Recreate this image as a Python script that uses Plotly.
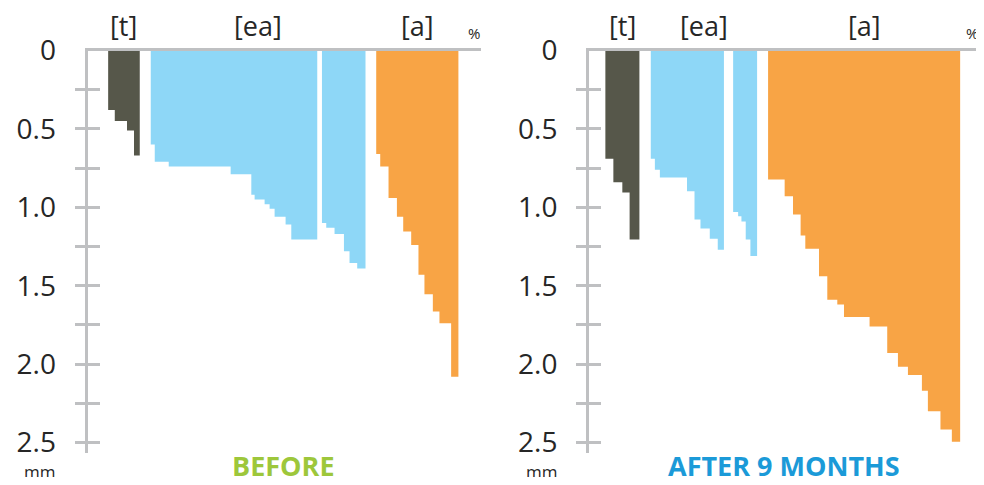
import numpy as np
import plotly.graph_objects as go

# ---------------- data (width = share in %, depth in mm) ----------------
t_before_pct = [1.68, 3.10, 1.78, 1.47]
t_before_mm = [0.38, 0.45, 0.51, 0.67]
ea1_before_pct = [1.02, 3.55, 15.74, 5.25, 0.84, 2.54, 1.27, 1.27, 2.79, 1.45, 6.60]
ea1_before_mm = [0.60, 0.71, 0.74, 0.79, 0.92, 0.95, 0.98, 1.01, 1.06, 1.11, 1.205]
ea2_before_pct = [1.09, 2.11, 2.39, 1.42, 1.95, 2.11]
ea2_before_mm = [1.10, 1.13, 1.17, 1.28, 1.355, 1.39]
a_before_pct = [1.02, 2.11, 2.13, 1.60, 2.03, 1.85, 1.52, 2.13, 1.68, 2.97, 1.85]
a_before_mm = [0.66, 0.74, 0.94, 1.06, 1.155, 1.24, 1.43, 1.555, 1.665, 1.74, 2.08]

t_after_pct = [2.03, 2.28, 1.85, 2.49]
t_after_mm = [0.69, 0.84, 0.905, 1.205]
ea1_after_pct = [1.04, 1.27, 6.90, 1.90, 1.52, 2.36, 2.03, 1.57]
ea1_after_mm = [0.69, 0.76, 0.81, 0.897, 1.078, 1.135, 1.20, 1.27]
ea2_after_pct = [1.27, 0.84, 1.09, 1.19, 1.70]
ea2_after_mm = [1.03, 1.057, 1.09, 1.205, 1.31]
a_after_pct = [4.21, 2.13, 1.93, 1.19, 3.48, 2.11, 2.54, 1.70, 6.50, 4.49, 2.72,
               2.54, 3.55, 1.52, 3.20, 2.89, 2.11]
a_after_mm = [0.823, 0.93, 1.046, 1.18, 1.265, 1.44, 1.59, 1.62, 1.70, 1.76, 1.93,
              2.017, 2.07, 2.17, 2.30, 2.417, 2.495]

y_major = [0, 0.5, 1.0, 1.5, 2.0, 2.5]
y_major_text = ["0", "0.5", "1.0", "1.5", "2.0", "2.5"]
y_minor = [0.25, 0.5, 0.75, 1.0, 1.25, 1.5, 1.75, 2.0, 2.25, 2.5]
group_labels = ["[t]", "[ea]", "[a]"]
panel_titles = ["BEFORE", "AFTER 9 MONTHS"]

# ---------------- styling / layout ----------------
# the page body has an 8px default margin: size the figure to fit inside it
OFF = 8
W, H = 976, 469
C_T = "#56574a"
C_EA = "#8ed7f7"
C_A = "#f8a445"
C_AX = "#bfc0c2"
C_TXT = "#262626"
FONT = "Open Sans"


def px_x(px):
    return (px - OFF) / W


def px_y(py):
    return 1 - (py - OFF) / H


gaps_before = [5.25, 2.79, 1.19, 2.72]
gaps_after = [4.16, 2.89, 2.34, 2.79]

y_dom = [px_y(453.0), px_y(50.5)]
y_range = [2.567, 0]
x_doms = [[px_x(87.5), px_x(481)], [px_x(589), px_x(982.5)]]

fig = go.Figure()

panels = [
    dict(groups=[(t_before_pct, t_before_mm, C_T), (ea1_before_pct, ea1_before_mm, C_EA),
                 (ea2_before_pct, ea2_before_mm, C_EA), (a_before_pct, a_before_mm, C_A)],
         gaps=gaps_before),
    dict(groups=[(t_after_pct, t_after_mm, C_T), (ea1_after_pct, ea1_after_mm, C_EA),
                 (ea2_after_pct, ea2_after_mm, C_EA), (a_after_pct, a_after_mm, C_A)],
         gaps=gaps_after),
]


def ann(text, x, y, size, color=C_TXT, xref="paper"):
    return dict(text=text, x=x, xref=xref, y=y, yref="paper", showarrow=False,
                xanchor="center", yanchor="middle", borderpad=0,
                font=dict(family=FONT, size=size, color=color))


annotations = []
for p, panel in enumerate(panels):
    xa = "x" if p == 0 else "x2"
    ya = "y" if p == 0 else "y2"
    cursor = 0.0
    spans = []
    for (widths, depths, color), gap in zip(panel["groups"], panel["gaps"]):
        start = cursor + gap
        w = np.array(widths)
        edges = start + np.concatenate([[0], np.cumsum(w)])
        xs = [edges[0]] + list(edges[:-1]) + [edges[-1], edges[-1]]
        ys = [0] + list(depths) + [depths[-1], 0]
        fig.add_trace(go.Scatter(x=xs, y=ys, mode="lines", line=dict(width=0, shape="hv"),
                                 fill="toself", fillcolor=color, xaxis=xa, yaxis=ya,
                                 showlegend=False, hoverinfo="skip"))
        spans.append((edges[0], edges[-1]))
        cursor = edges[-1]
    # group labels: [t] over dark, [ea] over both blue groups, [a] over orange
    label_spans = [spans[0], (spans[1][0], spans[2][1]), spans[3]]
    for lab, (s0, s1) in zip(group_labels, label_spans):
        annotations.append(ann(lab, (s0 + s1) / 2, px_y(25), 27, xref=xa))
    annotations.append(ann("%", px_x(474 if p == 0 else 972), px_y(33), 15))
    annotations.append(ann("mm", px_x(39 if p == 0 else 541), px_y(471), 17))
    annotations.append(ann("<b>%s</b>" % panel_titles[p], px_x(283 if p == 0 else 784),
                           px_y(465.5), 27, color="#9dc73b" if p == 0 else "#1b9ad8"))

common_x = dict(side="top", showline=True, linecolor=C_AX, linewidth=3,
                showticklabels=False, ticks="", showgrid=False, zeroline=False,
                range=[0, 100], fixedrange=True, automargin=False)
common_y = dict(range=y_range, domain=y_dom, showline=True, linecolor=C_AX, linewidth=3,
                tickvals=y_major, ticktext=y_major_text, ticks="", showgrid=False,
                zeroline=False, ticklabelstandoff=23, automargin=False,
                tickfont=dict(family=FONT, size=28, color=C_TXT))
tick_out = dict(range=y_range, tickvals=y_minor, ticks="outside", ticklen=12,
                tickwidth=3, tickcolor=C_AX, showticklabels=False, showgrid=False,
                zeroline=False, showline=False, side="left", automargin=False)
tick_in = dict(tick_out, ticks="inside")

fig.update_layout(
    width=W, height=H,
    margin=dict(l=0, r=0, t=0, b=0, autoexpand=False),
    paper_bgcolor="white", plot_bgcolor="white",
    showlegend=False,
    xaxis=dict(common_x, domain=x_doms[0], anchor="y"),
    xaxis2=dict(common_x, domain=x_doms[1], anchor="y2"),
    yaxis=dict(common_y, anchor="x"),
    yaxis2=dict(common_y, anchor="x2"),
    yaxis3=dict(tick_out, overlaying="y", anchor="x"),
    yaxis4=dict(tick_in, overlaying="y", anchor="x"),
    yaxis5=dict(tick_out, overlaying="y2", anchor="x2"),
    yaxis6=dict(tick_in, overlaying="y2", anchor="x2"),
    annotations=annotations,
)

# invisible helper traces so overlay tick axes are rendered
for ya, xa in [("y3", "x"), ("y4", "x"), ("y5", "x2"), ("y6", "x2")]:
    fig.add_trace(go.Scatter(x=[None], y=[None], xaxis=xa, yaxis=ya,
                             showlegend=False, hoverinfo="skip"))

fig.write_html("out.html")
